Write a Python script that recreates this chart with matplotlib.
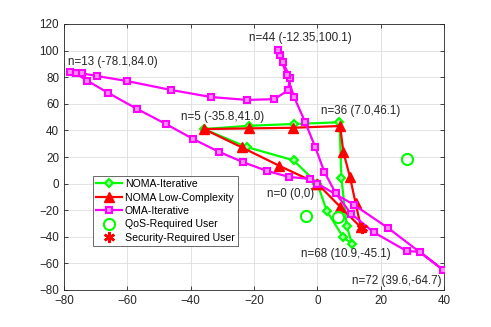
import matplotlib
matplotlib.use('Agg')
import matplotlib.pyplot as plt

plt.rcParams['font.family'] = ['Liberation Sans', 'DejaVu Sans']

# trajectories (closed loops starting/ending at the origin)
noma_it_x = [0, -7.5, -22.3, -35.8, -21.5, -7.5, 7.0, 7.6, 9.3, 10.9, 8.2, 3.0, 0]
noma_it_y = [0, 17.5, 27.5, 41.0, 43.5, 44.8, 46.1, 4.1, -31.9, -45.1, -40.4, -20.6, 0]

noma_lc_x = [0, -12.1, -23.9, -35.8, -21.5, -7.6, 7.2, 8.2, 10.3, 12.1, 13.8, 7.2, 0]
noma_lc_y = [0, 13.5, 27.3, 41.0, 41.5, 42.0, 43.3, 24.0, 5.0, -14.8, -33.0, -17.4, 0]

oma_x = [0, -2.3, -8.9, -15.9, -23.5, -31.0, -39.2, -47.8, -56.9, -66.0, -72.6,
         -76.3, -78.1, -74.2, -69.6, -60.1, -46.2, -33.6, -22.2, -13.6, -9.3,
         -8.6, -10.8, -11.8, -12.35, -9.7, -7.3, -3.9, -0.7, 2.2, 5.8, 10.6,
         17.8, 28.2, 32.4, 39.6, 22.4, 11.6, 0]
oma_y = [0, 3.5, 5.0, 9.5, 16.2, 23.8, 33.5, 44.8, 56.1, 68.1, 77.3,
         82.8, 84.0, 82.8, 80.9, 77.1, 70.4, 65.1, 62.9, 63.5, 70.0,
         79.2, 91.4, 96.7, 100.1, 81.6, 64.9, 46.5, 27.7, 8.9, -7.3, -22.5,
         -36.6, -50.7, -51.3, -64.7, -33.5, -16.0, 0]

qos_x = [28.2, -3.7, 6.6]
qos_y = [18.3, -24.1, -24.9]
sec_x = [14.2]
sec_y = [-33.6]

labels = ['n=44 (-12.35,100.1)', 'n=13 (-78.1,84.0)', 'n=5 (-35.8,41.0)',
          'n=36 (7.0,46.1)', 'n=0 (0,0)', 'n=68 (10.9,-45.1)', 'n=72 (39.6,-64.7)']
label_x = [-21.6, -78.7, -43.1, 1.1, -15.8, -5.1, 11.0]
label_y = [109.5, 91.4, 50.0, 54.6, -8.0, -53.0, -73.2]

fs = 8.4
green = '#00ff00'
red = '#ff0000'
magenta = '#ff00ff'

fig = plt.figure(figsize=(4.91, 3.27), dpi=100)
ax = fig.add_axes([64/491, 37/327, 380/491, 266/327])

ax.plot(noma_it_x, noma_it_y, color=green, lw=1.6, marker='D', ms=4.5,
        mfc='#a0ffa0', mec=green, mew=1.5, label='NOMA-Iterative', zorder=3)
ax.plot(noma_lc_x, noma_lc_y, color=red, lw=1.6, marker='^', ms=6.5,
        mfc=red, mew=1.0, label='NOMA Low-Complexity', zorder=4)
ax.plot(oma_x, oma_y, color=magenta, lw=1.6, marker='s', ms=4.5,
        mfc='#ff90ff', mec=magenta, mew=1.5, label='OMA-Iterative', zorder=5)
ax.plot(qos_x, qos_y, ls='none', marker='o', ms=8, mfc='none', mec=green,
        mew=1.5, label='QoS-Required User', zorder=6)
ax.plot(sec_x, sec_y, ls='none', marker=(6, 2, 0), ms=8, mec=red,
        mew=1.8, label='Security-Required User', zorder=6)

for t, x, y in zip(labels, label_x, label_y):
    ax.text(x, y, t, fontsize=fs, ha='left', va='center', color='#262626')

ax.set_xlim(-80, 40)
ax.set_ylim(-80, 120)
ax.set_xticks(range(-80, 41, 20))
ax.set_yticks(range(-80, 121, 20))
ax.grid(True, color='#dedede', lw=0.6)
ax.set_axisbelow(True)
ax.tick_params(direction='in', length=3, width=0.6, top=True, right=True,
               labelsize=fs, colors='#262626')
for s in ax.spines.values():
    s.set_color('#262626')
    s.set_linewidth(0.6)

leg = ax.legend(loc='upper left', bbox_to_anchor=(0.0755, 0.4286), fontsize=7.6,
                frameon=True, fancybox=False, edgecolor='#262626',
                labelspacing=0.32, borderpad=0.3, handlelength=2.5,
                handletextpad=0.25, borderaxespad=0)
leg.get_frame().set_linewidth(0.6)

fig.savefig('out.png', dpi=100)
